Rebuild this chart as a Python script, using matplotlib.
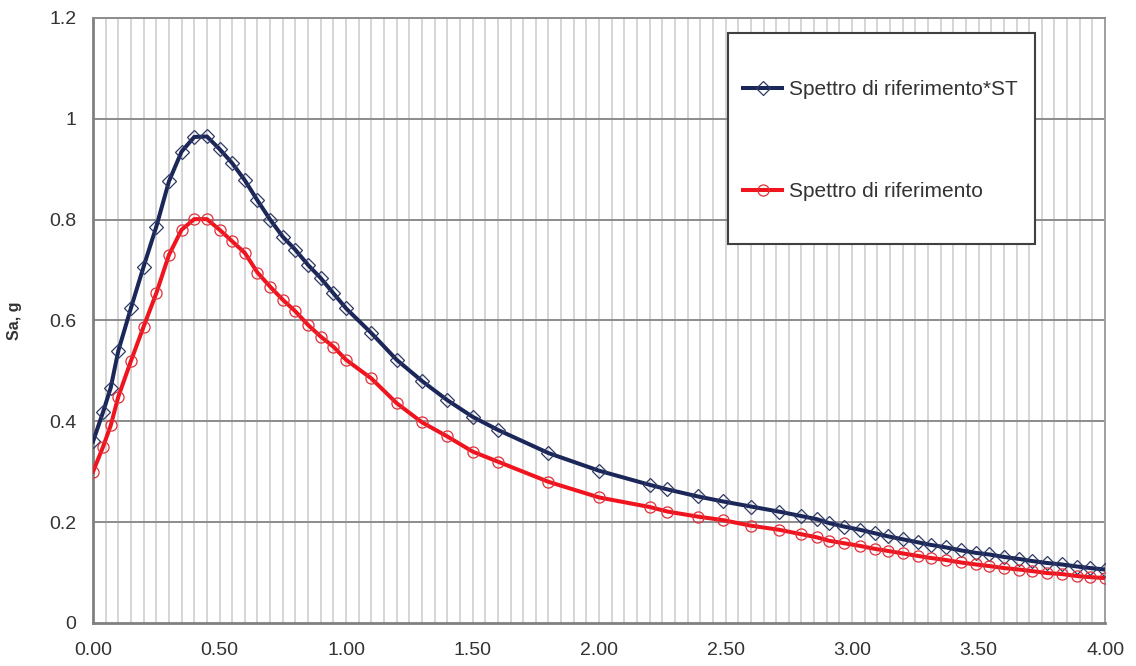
import matplotlib
matplotlib.use("Agg")
import matplotlib.pyplot as plt
from matplotlib.patches import Rectangle
import numpy as np

plt.rcParams['font.family'] = ['Liberation Sans', 'DejaVu Sans']

# periods (s)
T = [0.00, 0.04, 0.07, 0.10, 0.15, 0.20, 0.25, 0.30, 0.35, 0.40, 0.45,
     0.50, 0.55, 0.60, 0.65, 0.70, 0.75, 0.80, 0.85, 0.90, 0.95, 1.00,
     1.10, 1.20, 1.30, 1.40, 1.50, 1.60, 1.80, 2.00, 2.20, 2.27, 2.39,
     2.49, 2.60, 2.71, 2.80, 2.86, 2.91, 2.97, 3.03, 3.09, 3.14, 3.20,
     3.26, 3.31, 3.37, 3.43, 3.49, 3.54, 3.60, 3.66, 3.71, 3.77, 3.83,
     3.89, 3.94, 4.00]

# Spettro di riferimento*ST
sa_st = [0.360, 0.419, 0.467, 0.540, 0.625, 0.707, 0.786, 0.876, 0.935, 0.964, 0.965,
         0.940, 0.912, 0.878, 0.838, 0.800, 0.766, 0.740, 0.710, 0.684, 0.654, 0.624,
         0.575, 0.522, 0.480, 0.442, 0.409, 0.383, 0.337, 0.302, 0.274, 0.265, 0.251,
         0.241, 0.231, 0.221, 0.212, 0.206, 0.198, 0.191, 0.185, 0.178, 0.172, 0.166,
         0.160, 0.155, 0.150, 0.144, 0.139, 0.136, 0.131, 0.127, 0.123, 0.119, 0.116,
         0.112, 0.109, 0.106]

# Spettro di riferimento
sa = [0.300, 0.350, 0.392, 0.449, 0.520, 0.588, 0.654, 0.730, 0.780, 0.801, 0.801,
      0.780, 0.757, 0.734, 0.695, 0.667, 0.641, 0.618, 0.591, 0.568, 0.548, 0.522,
      0.485, 0.436, 0.398, 0.370, 0.340, 0.320, 0.280, 0.249, 0.230, 0.221, 0.211,
      0.204, 0.193, 0.185, 0.176, 0.170, 0.163, 0.158, 0.153, 0.147, 0.143, 0.138,
      0.133, 0.129, 0.125, 0.120, 0.116, 0.113, 0.109, 0.106, 0.103, 0.099, 0.097,
      0.093, 0.091, 0.089]

navy = "#1B2659"
red = "#F0141E"

fig = plt.figure(figsize=(11.36, 6.66), dpi=100)
ax = fig.add_axes([0.0819, 0.0646, 0.8909, 0.9084])

# grid
for x in np.arange(0.05, 4.01, 0.05):
    ax.axvline(x, color="#D2D2D2", lw=1.3, zorder=0)
for y in [0.2, 0.4, 0.6, 0.8, 1.0, 1.2]:
    ax.axhline(y, color="#8C8C8C", lw=1.4, zorder=1)

ax.plot(T, sa_st, color=navy, lw=2.9, marker="D", ms=7, mfc="none",
        mec="#2E3A66", mew=0.9, label="Spettro di riferimento*ST", zorder=3)
ax.plot(T, sa, color=red, lw=2.9, marker="o", ms=8, mfc="none",
        mec="#E0303A", mew=0.9, label="Spettro di riferimento", zorder=3)

ax.set_xlim(0, 4)
ax.set_ylim(0, 1.2)
ax.set_xticks(np.arange(0, 4.01, 0.5))
ax.set_xticklabels([f"{v:.2f}" for v in np.arange(0, 4.01, 0.5)])
ax.set_yticks([0, 0.2, 0.4, 0.6, 0.8, 1.0, 1.2])
ax.set_yticklabels(["0", "0.2", "0.4", "0.6", "0.8", "1", "1.2"])
ax.tick_params(axis="both", length=0, labelsize=14, colors="#333333")
ax.tick_params(axis="y", pad=12)
ax.tick_params(axis="x", pad=14)

ax.set_ylabel("Sa, g", fontsize=11.5, fontweight="bold", color="#333333")
ax.yaxis.set_label_coords(-0.070, 0.5)

for side in ["left", "bottom"]:
    ax.spines[side].set_color("#808080")
    ax.spines[side].set_linewidth(2)
ax.spines["top"].set_color("#8C8C8C")
ax.spines["top"].set_linewidth(1.4)
ax.spines["right"].set_color("#A0A0A0")
ax.spines["right"].set_linewidth(1.4)

# legend box
ax.add_patch(Rectangle((0.6275, 0.626), 0.3035, 0.349, transform=ax.transAxes,
                       facecolor="white", edgecolor="#404040", lw=1.5, zorder=5))
leg = ax.legend(loc="center left", bbox_to_anchor=(0.642, 0.7975), frameon=False,
                fontsize=15, handlelength=1.9, handletextpad=0.3, labelspacing=4.0,
                borderpad=0, borderaxespad=0, numpoints=1)
leg.set_zorder(6)
for txt in leg.get_texts():
    txt.set_color("#333333")

fig.savefig("out.png", dpi=100)
